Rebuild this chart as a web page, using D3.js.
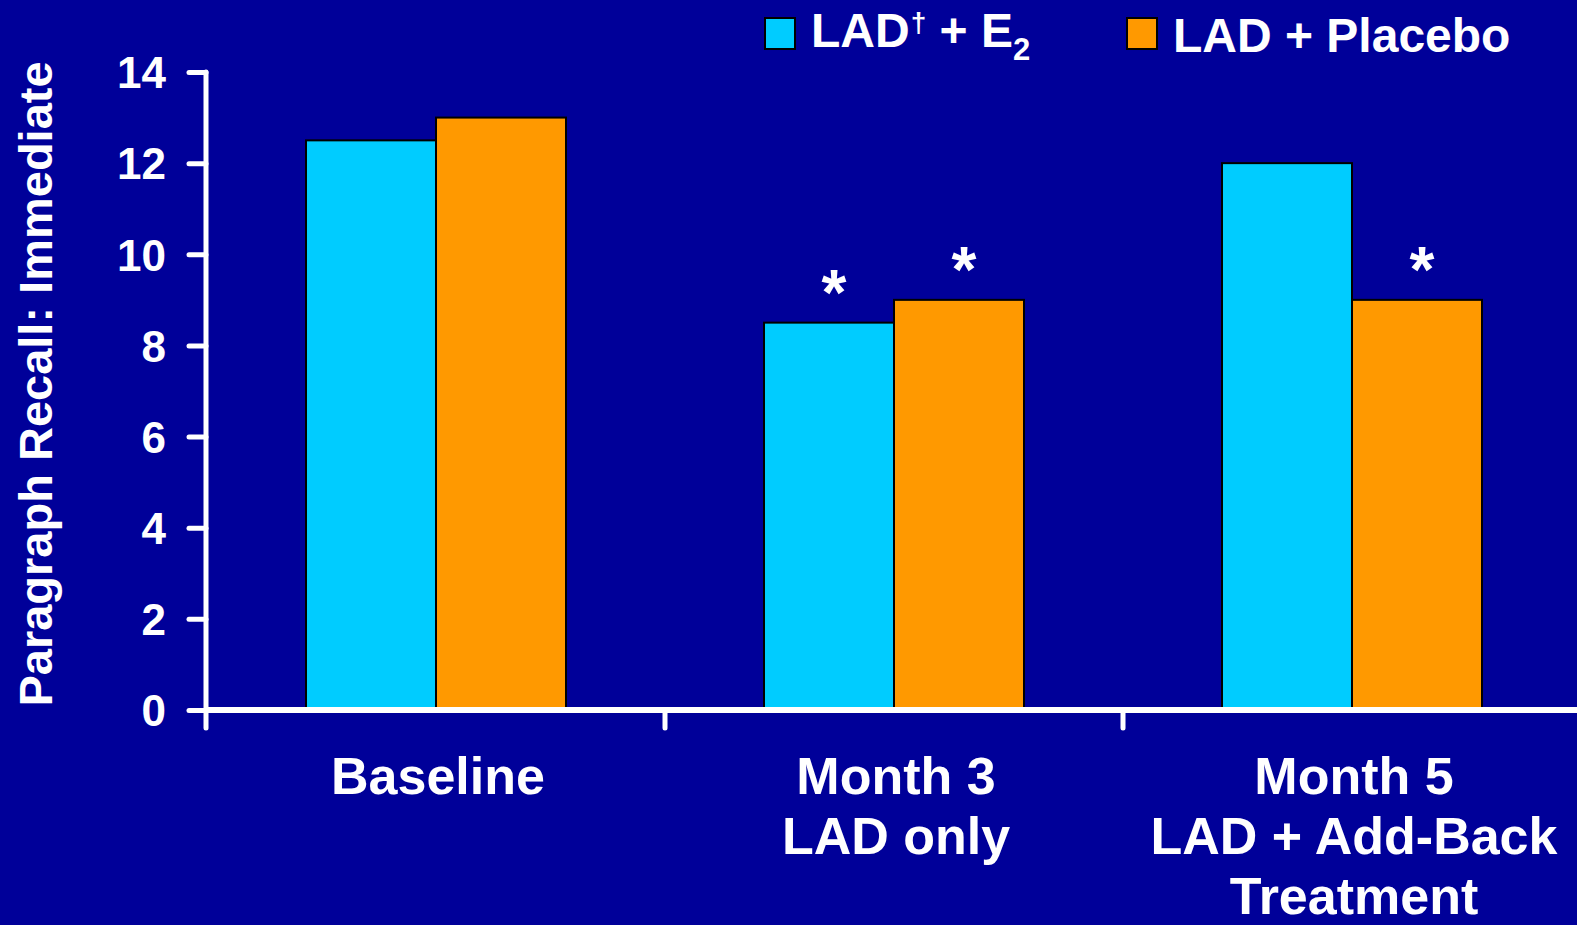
<!DOCTYPE html>
<html>
<head>
<meta charset="utf-8">
<script src="https://cdn.jsdelivr.net/npm/d3@7"></script>
<style>
  body { margin: 0; background: #000099; }
  text { font-family: "Liberation Sans", Arial, sans-serif; font-weight: bold; fill: #fff; }
</style>
</head>
<body>
<div id="chart"></div>
<script>
var categories = ["Baseline", "Month 3|LAD only", "Month 5|LAD + Add-Back|Treatment"];
var seriesNames = ["LAD† + E2", "LAD + Placebo"];
var e2Values = [12.5, 8.5, 12];
var placeboValues = [13, 9, 9];
var e2Stars = [false, true, false];
var placeboStars = [false, true, true];
var yTicks = [0, 2, 4, 6, 8, 10, 12, 14];

var width = 1577,
  height = 925;

var colors = ["#00ccff", "#ff9900"];

var svg = d3.select("#chart")
  .append("svg")
  .attr("width", width)
  .attr("height", height);

svg.append("rect").attr("width", width).attr("height", height).attr("fill", "#000099");

var x0 = d3.scaleBand().domain(categories).range([207, 1581]).padding(0);
var y = d3.scaleLinear().domain([0, 14]).range([710, 72]);

var rows = categories.map(function(c, i) {
  return [
    { cat: c, s: 0, value: e2Values[i], star: e2Stars[i] },
    { cat: c, s: 1, value: placeboValues[i], star: placeboStars[i] }
  ];
});

// two bars of 130px sitting either side of the band centre
var barW = 130;
function barX(d) {
  return x0(d.cat) + x0.bandwidth() / 2 - barW + d.s * barW;
}

var g = svg.selectAll(".grp")
  .data(rows)
  .enter().append("g")
  .attr("class", "grp");

g.selectAll("rect")
  .data(function(d) { return d; })
  .enter().append("rect")
  .attr("x", barX)
  .attr("y", function(d) { return y(d.value); })
  .attr("width", barW)
  .attr("height", function(d) { return y(0) - y(d.value); })
  .attr("fill", function(d) { return colors[d.s]; })
  .attr("stroke", "#000")
  .attr("stroke-width", 2);

g.selectAll(".star")
  .data(function(d) { return d.filter(function(e) { return e.star; }); })
  .enter().append("text")
  .attr("class", "star")
  .attr("x", function(d) { return barX(d) + barW / 2 + 5; })
  .attr("y", function(d) { return y(d.value) - 8; })
  .attr("text-anchor", "middle")
  .style("font-size", "64px")
  .text("*");

// y axis
var yAxis = svg.append("g")
  .attr("transform", "translate(206,0)")
  .call(d3.axisLeft(y).tickValues(yTicks).tickSize(17).tickPadding(23));
yAxis.select(".domain").remove();
yAxis.selectAll("line").attr("stroke", "#fff").attr("stroke-width", 5).attr("stroke-linecap", "round");
yAxis.selectAll("text").style("font-size", "44px").style("fill", "#fff").attr("dy", "0.36em");
svg.append("line")
  .attr("x1", 206).attr("x2", 206).attr("y1", y(14)).attr("y2", 728)
  .attr("stroke", "#fff").attr("stroke-width", 5).attr("stroke-linecap", "round");

// x axis
svg.append("line")
  .attr("x1", 206).attr("x2", width).attr("y1", y(0)).attr("y2", y(0))
  .attr("stroke", "#fff").attr("stroke-width", 6);
svg.selectAll(".xtick")
  .data(categories.slice(1))
  .enter().append("line")
  .attr("x1", function(d) { return x0(d); })
  .attr("x2", function(d) { return x0(d); })
  .attr("y1", y(0)).attr("y2", 728)
  .attr("stroke", "#fff").attr("stroke-width", 5).attr("stroke-linecap", "round");

// category labels
var lbl = svg.selectAll(".cat")
  .data(categories)
  .enter().append("text")
  .attr("class", "cat")
  .attr("text-anchor", "middle")
  .attr("x", function(d) { return x0(d) + x0.bandwidth() / 2 + 2; })
  .attr("y", 794)
  .style("font-size", "52px");
lbl.selectAll("tspan")
  .data(function(d) { return d.split("|"); })
  .enter().append("tspan")
  .attr("x", function() { return d3.select(this.parentNode).attr("x"); })
  .attr("dy", function(d, i) { return i ? 60 : 0; })
  .text(function(d) { return d; });

// y label
svg.append("text")
  .attr("transform", "translate(52,384) rotate(-90)")
  .attr("text-anchor", "middle")
  .style("font-size", "47px")
  .text("Paragraph Recall: Immediate");

// legend
var legendX = [765, 1127];
var legendBase = [47, 52];
var leg = svg.selectAll(".leg")
  .data(seriesNames)
  .enter().append("g")
  .attr("class", "leg")
  .attr("transform", function(d, i) { return "translate(" + legendX[i] + ",18)"; });
leg.append("rect")
  .attr("width", 30).attr("height", 31)
  .attr("fill", function(d, i) { return colors[i]; })
  .attr("stroke", "#000").attr("stroke-width", 2);
leg.append("text")
  .attr("x", 46)
  .attr("y", function(d, i) { return legendBase[i] - 18; })
  .style("font-size", "48px")
  .each(function(d, i) {
    var t = d3.select(this);
    if (i === 0) {
      t.append("tspan").text("LAD");
      t.append("tspan").attr("dy", -15).attr("dx", 1).style("font-size", "28px").text("†");
      t.append("tspan").attr("dy", 15).text(" + E");
      t.append("tspan").attr("dy", 13).style("font-size", "31px").text("2");
    } else {
      t.text(d);
    }
  });
</script>
</body>
</html>
